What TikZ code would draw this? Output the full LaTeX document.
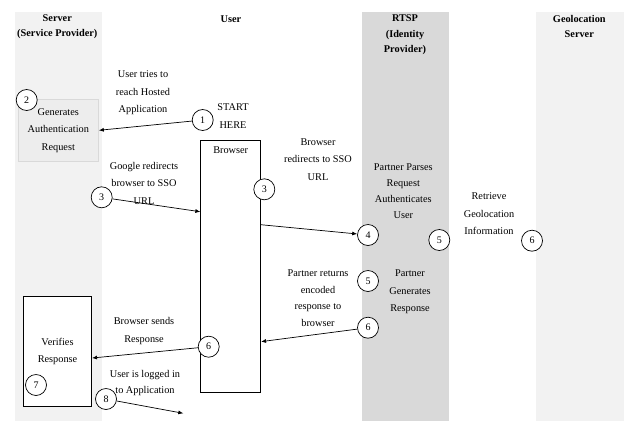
\documentclass[tikz,border=0pt]{standalone}
\usepackage{fontspec}
\setmainfont{Liberation Serif}
\usetikzlibrary{arrows.meta}

\begin{document}
\begin{tikzpicture}[x=1pt,y=-1pt,
  num/.style={draw,circle,fill=white,minimum size=21pt,inner sep=0pt,line width=0.7pt,font=\fontsize{10}{12}\selectfont},
  txt/.style={align=center,font=\fontsize{10.3}{17.5}\selectfont},
  head/.style={align=center,font=\fontsize{10.3}{15.5}\selectfont\bfseries},
  arr/.style={-{Latex[length=5pt,width=4pt]},line width=0.7pt}]
\useasboundingbox (0,0) rectangle (624,421);

% lanes
\fill[black!5] (15,12) rectangle (101.7,421);
\fill[black!15] (362,12) rectangle (448.7,421);
\fill[black!5] (536,12) rectangle (624,421);

\node[head] (server) at (57.3,26.5) {Server\\(Service Provider)};
\node[head] (user) at (231,19) {User};
\node[head] (rtsp) at (405,34.7) {RTSP\\(Identity\\Provider)};
\node[head] (geo) at (579.3,26.5) {Geolocation\\Server};

% boxes
\node[draw=black!15,fill=black!7,txt,minimum width=80.7pt,minimum height=62.7pt] (gen) at (58.3,130.3) {Generates\\Authentication\\Request};
\node[draw,line width=0.7pt,fill=white,minimum width=60pt,minimum height=251.6pt,
  label={[txt,anchor=north,yshift=-3pt]north:Browser}] (browser) at (230.7,266.5) {};
\node[draw,line width=0.7pt,fill=white,txt,minimum width=68.4pt,minimum height=110.7pt] (verify) at (57.5,351.3) {Verifies\\Response};

% texts
\node[txt] (t1) at (143,93) {User tries to\\reach Hosted\\Application};
\node[txt] (start) at (233,116) {START\\HERE};
\node[txt] (t3a) at (144,183) {Google redirects\\browser to SSO\\URL};
\node[txt] (t3b) at (318,159.5) {Browser\\redirects to SSO\\URL};
\node[txt,font=\fontsize{10.3}{16}\selectfont] (parse) at (403.3,191.5) {Partner Parses\\Request\\Authenticates\\User};
\node[txt] (retrieve) at (489,214) {Retrieve\\Geolocation\\Information};
\node[txt] (partgen) at (410,292) {Partner\\Generates\\Response};
\node[txt,font=\fontsize{10.3}{16.5}\selectfont] (returns) at (318,298) {Partner returns\\encoded\\response to\\browser};
\node[txt] (sends) at (144,331) {Browser sends\\Response};
\node[txt,font=\fontsize{10.3}{16}\selectfont] (logged) at (145,383) {User is logged in\\to Application};

% numbers
\node[num] (c1) at (202.7,120) {1};
\node[num] (c2) at (26.7,100) {2};
\node[num] (c3a) at (101.7,197.3) {3};
\node[num] (c3b) at (264.3,189.3) {3};
\node[num] (c4) at (368,235) {4};
\node[num] (c5a) at (439.3,240) {5};
\node[num] (c6a) at (532,240.7) {6};
\node[num] (c5b) at (368,281) {5};
\node[num] (c6b) at (368,327.7) {6};
\node[num] (c6c) at (208.7,346.7) {6};
\node[num] (c7) at (36,385) {7};
\node[num] (c8) at (106,399) {8};
\coordinate (out) at (183.3,413.3);

% flow
\draw[arr] (c1) -- (gen.east);
\draw[arr] (c3a) -- (browser.119.7);
\draw[arr] (browser.54.6) -- (c4);
\draw[arr] (c6b) -- (browser.-68.5);
\draw[arr] (c6c) -- (verify.-11);
\draw[arr] (c8) -- (out);

\end{tikzpicture}
\end{document}
